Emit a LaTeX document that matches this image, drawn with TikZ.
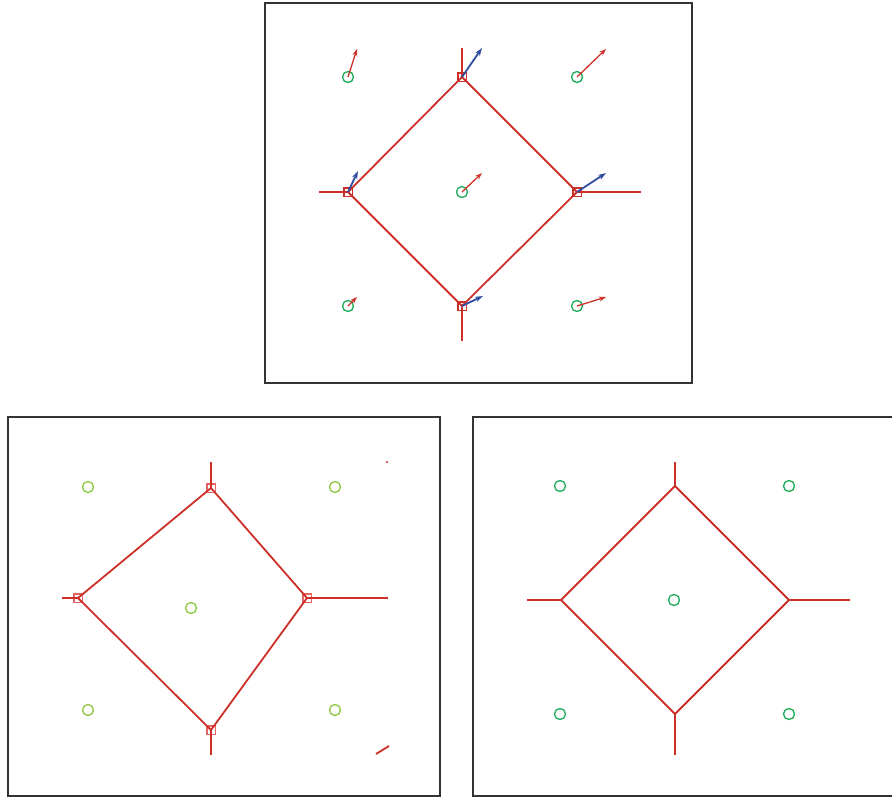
\documentclass[tikz,border=0pt]{standalone}
\usepackage{tikz}
\usetikzlibrary{positioning,arrows.meta,calc}
\definecolor{vorRed}{HTML}{CC3029}
\definecolor{vorBlue}{HTML}{2F4E9E}
\definecolor{siteGreen}{HTML}{1BAA55}
\definecolor{siteLime}{HTML}{8CC63F}
\definecolor{vertSalmon}{HTML}{E86464}
\definecolor{frameGray}{HTML}{333333}

\begin{document}
\begin{tikzpicture}[
  x=1pt, y=-1pt,
  panel/.style={draw=frameGray, line width=1.2pt},
  site/.style={circle, draw=siteGreen, line width=1.3pt, minimum size=11pt, inner sep=0pt},
  lime/.style={site, draw=siteLime},
  vert/.style={rectangle, draw=vorRed, line width=1.5pt, minimum size=8.5pt, inner sep=0pt},
  pale/.style={vert, draw=vertSalmon},
  edge/.style={draw=vorRed, line width=1.8pt},
  sitevel/.style={draw=vorRed, line width=1.3pt, -{Stealth[length=7pt,width=5pt]}},
  vertvel/.style={draw=vorBlue, line width=1.8pt, -{Stealth[length=8pt,width=5.5pt]}}
]
  \useasboundingbox (0,0) rectangle (892,798);

  % top panel
  \draw[panel] (265,3) rectangle (692,383);
  \node[site] (t1) at (348,77) {};
  \node[site] (t2) at (577,77) {};
  \node[site] (t3) at (462,192) {};
  \node[site] (t4) at (348,306) {};
  \node[site] (t5) at (577,306) {};
  \node[vert] (tn) at (462,77) {};
  \node[vert] (tw) at (348,192) {};
  \node[vert] (te) at (577,192) {};
  \node[vert] (ts) at (462,306) {};
  \coordinate (tn0) at (462,48);
  \coordinate (tw0) at (319,192);
  \coordinate (te0) at (641,192);
  \coordinate (ts0) at (462,341);

  \draw[edge] (tn.center) -- (te.center) -- (ts.center) -- (tw.center) -- cycle;
  \draw[edge] (tn.center) -- (tn0);
  \draw[edge] (tw.center) -- (tw0);
  \draw[edge] (te.center) -- (te0);
  \draw[edge] (ts.center) -- (ts0);

  \draw[sitevel] (t1.center) -- (357,49);
  \draw[sitevel] (t2.center) -- (606,49);
  \draw[sitevel] (t3.center) -- (482,173);
  \draw[sitevel] (t4.center) -- (357,297);
  \draw[sitevel] (t5.center) -- (606,297);
  \draw[vertvel] (tn.center) -- (482,48);
  \draw[vertvel] (tw.center) -- (358,171);
  \draw[vertvel] (te.center) -- (606,173);
  \draw[vertvel] (ts.center) -- (483,296);

  % bottom left panel
  \draw[panel] (8,417) rectangle (440,796);
  \node[lime] (l1) at (88,487) {};
  \node[lime] (l2) at (335,487) {};
  \node[lime] (l3) at (191,608) {};
  \node[lime] (l4) at (88,710) {};
  \node[lime] (l5) at (335,710) {};
  \node[pale] (ln) at (211,488) {};
  \node[pale] (lw) at (78,598) {};
  \node[pale] (le) at (307,598) {};
  \node[pale] (ls) at (211,730) {};
  \coordinate (ln0) at (211,462);
  \coordinate (lw0) at (62,598);
  \coordinate (le0) at (388,598);
  \coordinate (ls0) at (211,755);

  \draw[edge] (ln.center) -- (le.center) -- (ls.center) -- (lw.center) -- cycle;
  \draw[edge] (ln.center) -- (ln0);
  \draw[edge] (lw.center) -- (lw0);
  \draw[edge] (le.center) -- (le0);
  \draw[edge] (ls.center) -- (ls0);
  \fill[vorRed] (387,462) circle (1.1pt);
  \draw[edge] (376,754) -- (389,746);

  % bottom right panel
  \draw[panel] (892,417) -- (473,417) -- (473,796) -- (892,796);
  \node[site] (r1) at (560,486) {};
  \node[site] (r2) at (789,486) {};
  \node[site] (r3) at (674,600) {};
  \node[site] (r4) at (560,714) {};
  \node[site] (r5) at (789,714) {};
  \coordinate (rn) at (675,486);
  \coordinate (rw) at (561,600);
  \coordinate (re) at (789,600);
  \coordinate (rs) at (675,714);
  \coordinate (rn0) at (675,462);
  \coordinate (rw0) at (527,600);
  \coordinate (re0) at (850,600);
  \coordinate (rs0) at (675,755);

  \draw[edge] (rn) -- (re) -- (rs) -- (rw) -- cycle;
  \draw[edge] (rn) -- (rn0);
  \draw[edge] (rw) -- (rw0);
  \draw[edge] (re) -- (re0);
  \draw[edge] (rs) -- (rs0);
\end{tikzpicture}
\end{document}
